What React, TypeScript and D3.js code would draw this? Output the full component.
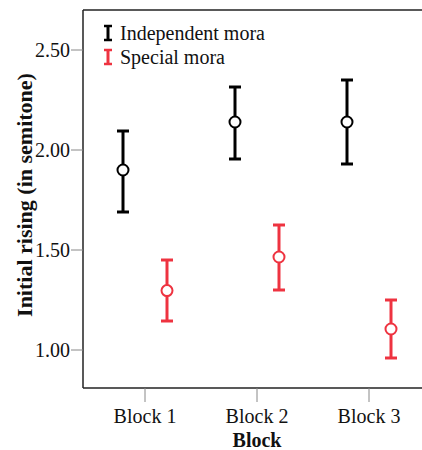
import React from "react";
import * as d3 from "d3";

const blocks = ["Block 1", "Block 2", "Block 3"];
const seriesNames = ["Independent mora", "Special mora"];
const seriesColors = ["#000000", "#ee3340"];
// mean, lower, upper per block
const independentMean = [1.9, 2.14, 2.14];
const independentLow = [1.69, 1.955, 1.93];
const independentHigh = [2.095, 2.315, 2.35];
const specialMean = [1.297, 1.465, 1.105];
const specialLow = [1.145, 1.3, 0.96];
const specialHigh = [1.45, 1.625, 1.25];
const yTicks = [1.0, 1.5, 2.0, 2.5];

const W = 422;
const H = 450;
const margin = { top: 10, right: 0, bottom: 62, left: 83 };

export default function App() {
  const x = d3
    .scalePoint<string>()
    .domain(blocks)
    .range([145, 369]);
  const y = d3
    .scaleLinear()
    .domain([0.81, 2.7])
    .range([H - margin.bottom, margin.top]);

  const series = [
    { mean: independentMean, low: independentLow, high: independentHigh, off: -22 },
    { mean: specialMean, low: specialLow, high: specialHigh, off: 22 },
  ];
  const font = "'Liberation Serif', 'Times New Roman', serif";
  const bottom = H - margin.bottom;

  return (
    <svg
      width={W}
      height={H}
      style={{ position: "absolute", left: 0, top: 0, fontFamily: font }}
    >
      <rect x={0} y={0} width={W} height={H} fill="#fff" />
      {/* frame */}
      <line x1={margin.left} x2={W} y1={margin.top} y2={margin.top} stroke="#222" strokeWidth={1.5} />
      <line x1={margin.left} x2={margin.left} y1={margin.top} y2={bottom} stroke="#222" strokeWidth={1.5} />
      <line x1={margin.left} x2={W} y1={bottom} y2={bottom} stroke="#222" strokeWidth={1.5} />

      {/* y axis */}
      {yTicks.map((t) => (
        <g key={t}>
          <line x1={margin.left - 12} x2={margin.left} y1={y(t)} y2={y(t)} stroke="#888" strokeWidth={1} />
          <text x={margin.left - 13} y={y(t)} dy="0.35em" textAnchor="end" fontSize={20} fill="#111">
            {d3.format(".2f")(t)}
          </text>
        </g>
      ))}
      <text
        transform={`translate(32, 195) rotate(-90)`}
        textAnchor="middle"
        fontSize={22}
        fontWeight="bold"
        fill="#111"
      >
        Initial rising (in semitone)
      </text>

      {/* x axis */}
      {blocks.map((b) => (
        <g key={b}>
          <line x1={x(b)} x2={x(b)} y1={bottom} y2={bottom + 14} stroke="#888" strokeWidth={1} />
          <text x={x(b)} y={bottom + 35} textAnchor="middle" fontSize={20} fill="#111">
            {b}
          </text>
        </g>
      ))}
      <text x={257} y={447} textAnchor="middle" fontSize={20} fontWeight="bold" fill="#111">
        Block
      </text>

      {/* error bars */}
      {series.map((s, si) =>
        blocks.map((b, i) => {
          const cx = (x(b) as number) + s.off;
          const c = seriesColors[si];
          return (
            <g key={`${si}-${b}`}>
              <line x1={cx} x2={cx} y1={y(s.low[i])} y2={y(s.high[i])} stroke={c} strokeWidth={3} />
              <line x1={cx - 6} x2={cx + 6} y1={y(s.low[i])} y2={y(s.low[i])} stroke={c} strokeWidth={3} />
              <line x1={cx - 6} x2={cx + 6} y1={y(s.high[i])} y2={y(s.high[i])} stroke={c} strokeWidth={3} />
              <circle cx={cx} cy={y(s.mean[i])} r={5.5} fill="#fff" stroke={c} strokeWidth={2} />
            </g>
          );
        })
      )}

      {/* legend */}
      {seriesNames.map((n, i) => {
        const ly = 33 + i * 24;
        const c = seriesColors[i];
        return (
          <g key={n}>
            <line x1={108} x2={108} y1={ly - 7} y2={ly + 7} stroke={c} strokeWidth={3} />
            <line x1={104} x2={112} y1={ly - 7} y2={ly - 7} stroke={c} strokeWidth={2.5} />
            <line x1={104} x2={112} y1={ly + 7} y2={ly + 7} stroke={c} strokeWidth={2.5} />
            <text x={120} y={ly} dy="0.35em" fontSize={20} fill="#111">
              {n}
            </text>
          </g>
        );
      })}
    </svg>
  );
}
